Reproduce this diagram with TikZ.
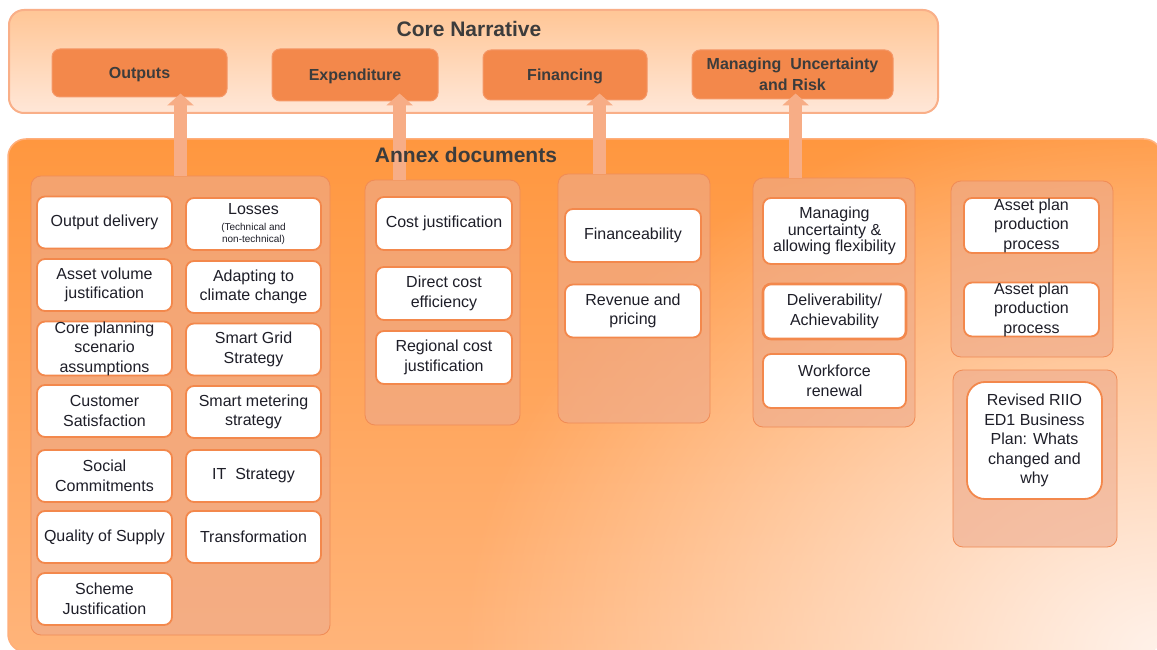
\documentclass[tikz,border=0pt]{standalone}
\usepackage{fontspec}
\setmainfont{Liberation Sans}
\usetikzlibrary{arrows.meta,fadings}
\definecolor{coretop}{HTML}{FFC696}
\definecolor{corebot}{HTML}{FFE7D8}
\definecolor{coreedge}{HTML}{F9AF88}
\definecolor{topfill}{HTML}{F3884B}
\definecolor{topedge}{HTML}{F59868}
\definecolor{annextop}{HTML}{FF973F}
\definecolor{annexbot}{HTML}{FFB47A}
\definecolor{annexglow}{HTML}{FFF2EA}
\definecolor{annexedge}{HTML}{FFAE7A}
\definecolor{groupfill}{HTML}{EEAA8C}
\definecolor{groupedge}{HTML}{F08B55}
\definecolor{docedge}{HTML}{F3884C}
\definecolor{arrowfill}{HTML}{F7AD86}
\definecolor{titletext}{HTML}{3C3C3C}
\definecolor{doctext}{HTML}{1E1E28}
\tikzfading[name=glow, inner color=transparent!0, outer color=transparent!100]

\begin{document}
\begin{tikzpicture}[x=1pt,y=-1pt]
  \tikzstyle{panel} = [rectangle, rounded corners=15pt, draw=coreedge, line width=2pt, top color=coretop, bottom color=corebot]
  \tikzstyle{annexpanel} = [rectangle, rounded corners=18pt, draw=annexedge, line width=1.5pt, top color=annextop, bottom color=annexbot]
  \tikzstyle{title} = [font=\fontsize{21}{25}\selectfont\bfseries, text=titletext]
  \tikzstyle{corebox} = [rectangle, rounded corners=8pt, fill=topfill, draw=topedge, line width=1pt, align=center, inner sep=0pt, font=\fontsize{16}{20.5}\selectfont\bfseries, text=titletext]
  \tikzstyle{group} = [rectangle, rounded corners=10pt, draw=groupedge, line width=0.8pt, fill=groupfill, fill opacity=0.6]
  \tikzstyle{doc} = [rectangle, rounded corners=8pt, draw=docedge, line width=1.8pt, fill=white, minimum width=135pt, minimum height=52pt, inner sep=0pt, align=center, font=\fontsize{16}{19.5}\selectfont, text=doctext]
  \tikzstyle{uparrow} = [draw=arrowfill, line width=13pt, -{Triangle[width=26pt,length=12pt]}]

  \fill [white] (0,0) rectangle (1157,650);
  \useasboundingbox (0,0) rectangle (1157,650);

  % core narrative
  \node (core) [panel, minimum width=929pt, minimum height=103pt] at (473.5,61.5) {};
  \node (coretitle) [title] at (469,29) {Core Narrative};
  \node (outputs) [corebox, minimum width=175pt, minimum height=48pt, text height=11.5pt, text depth=0pt] at (139.5,73) {Outputs};
  \node (expend) [corebox, minimum width=166pt, minimum height=52pt, text height=11.5pt, text depth=0pt] at (355,75) {Expenditure};
  \node (fin) [corebox, minimum width=164pt, minimum height=50pt, text height=11.5pt, text depth=0pt] at (565,75) {Financing};
  \node (risk) [corebox, minimum width=201pt, minimum height=49pt] at (792.5,74.5) {Managing~ Uncertainty\\and Risk};

  % annex documents
  \node (annex) [annexpanel, minimum width=1154pt, minimum height=513pt] at (585,395.5) {};
  \begin{scope}
    \clip [rounded corners=18pt] (annex.north west) rectangle (annex.south east);
    \fill [annexglow, path fading=glow] (annex.south east) ellipse [x radius=700pt, y radius=560pt];
  \end{scope}

  \node (g1) [group, minimum width=299pt, minimum height=459pt] at (180.5,405.5) {};
  \node (g2) [group, minimum width=155pt, minimum height=245pt] at (442.5,302.5) {};
  \node (g3) [group, minimum width=152pt, minimum height=249pt] at (634,298.5) {};
  \node (g4) [group, minimum width=162pt, minimum height=249pt] at (834,302.5) {};
  \node (g5) [group, minimum width=162pt, minimum height=176pt] at (1032,269) {};
  \node (g6) [group, minimum width=164pt, minimum height=177pt] at (1035,458.5) {};

  % outputs
  \node (outdel) [doc] at (104.5,222.5) {Output delivery};
  \node (assetvol) [doc] at (104.5,285) {Asset volume\\justification};
  \node (coreplan) [doc] at (104.5,348.5) {Core planning\\scenario\\assumptions};
  \node (custsat) [doc] at (104.5,411) {Customer\\Satisfaction};
  \node (social) [doc] at (104.5,476) {Social\\Commitments};
  \node (quality) [doc] at (104.5,537) {Quality of Supply};
  \node (scheme) [doc] at (104.5,599) {Scheme\\Justification};
  \node (losses) [doc] at (253.5,224) {Losses\\[-3.5pt]\fontsize{10}{12}\selectfont(Technical and\\[-7.5pt]\fontsize{10}{12}\selectfont non-technical)};
  \node (climate) [doc] at (253.5,287) {Adapting to\\climate change};
  \node (smartgrid) [doc] at (253.5,349.5) {Smart Grid\\Strategy};
  \node (smartmeter) [doc] at (253.5,412) {Smart metering\\strategy};
  \node (itstrat) [doc] at (253.5,476) {IT~ Strategy};
  \node (transform) [doc] at (253.5,537) {Transformation};

  % expenditure
  \node (costjust) [doc, minimum width=136pt, minimum height=53pt] at (444,223.5) {Cost justification};
  \node (directcost) [doc, minimum width=136pt, minimum height=53pt] at (444,293.5) {Direct cost\\efficiency};
  \node (regcost) [doc, minimum width=136pt, minimum height=53pt] at (444,357.5) {Regional cost\\justification};

  % financing
  \node (financeab) [doc, minimum width=136pt, minimum height=53pt] at (633,235.5) {Financeability};
  \node (revenue) [doc, minimum width=136pt, minimum height=53pt] at (633,311) {Revenue and\\pricing};

  % uncertainty and risk
  \node (manunc) [doc, minimum width=143pt, minimum height=66pt, font=\fontsize{16}{16.5}\selectfont] at (834.5,231) {Managing\\uncertainty \&\\allowing flexibility};
  \node (deliver) [doc, minimum width=143pt, minimum height=55pt, line width=2.6pt] at (834.5,311.5) {Deliverability/\\Achievability};
  \node (workforce) [doc, minimum width=143pt, minimum height=54pt] at (834.5,381) {Workforce\\renewal};

  % asset plans
  \node (asset1) [doc, minimum height=55pt] at (1031.5,225.5) {Asset plan\\production\\process};
  \node (asset2) [doc, minimum height=53pt] at (1031.5,309.5) {Asset plan\\production\\process};
  \node (revised) [doc, minimum height=117pt, rounded corners=18pt] at (1034.5,440.5) {Revised RIIO\\ED1 Business\\Plan: Whats\\changed and\\why};

  % arrows up to the core narrative
  \coordinate (a2) at ([xshift=35pt]g2.north west);
  \coordinate (a3) at ([xshift=42pt]g3.north west);
  \coordinate (a4) at ([xshift=43pt]g4.north west);
  \draw [uparrow, shorten >=-4pt] (g1.north) -- (g1.north |- outputs.south);
  \draw [uparrow, shorten >=-8pt] (a2) -- (a2 |- expend.south);
  \draw [uparrow, shorten >=-7pt] (a3) -- (a3 |- fin.south);
  \draw [uparrow, shorten >=-6pt] (a4) -- (a4 |- risk.south);

  \node (annextitle) [title] at (466,155) {Annex documents};
\end{tikzpicture}
\end{document}
